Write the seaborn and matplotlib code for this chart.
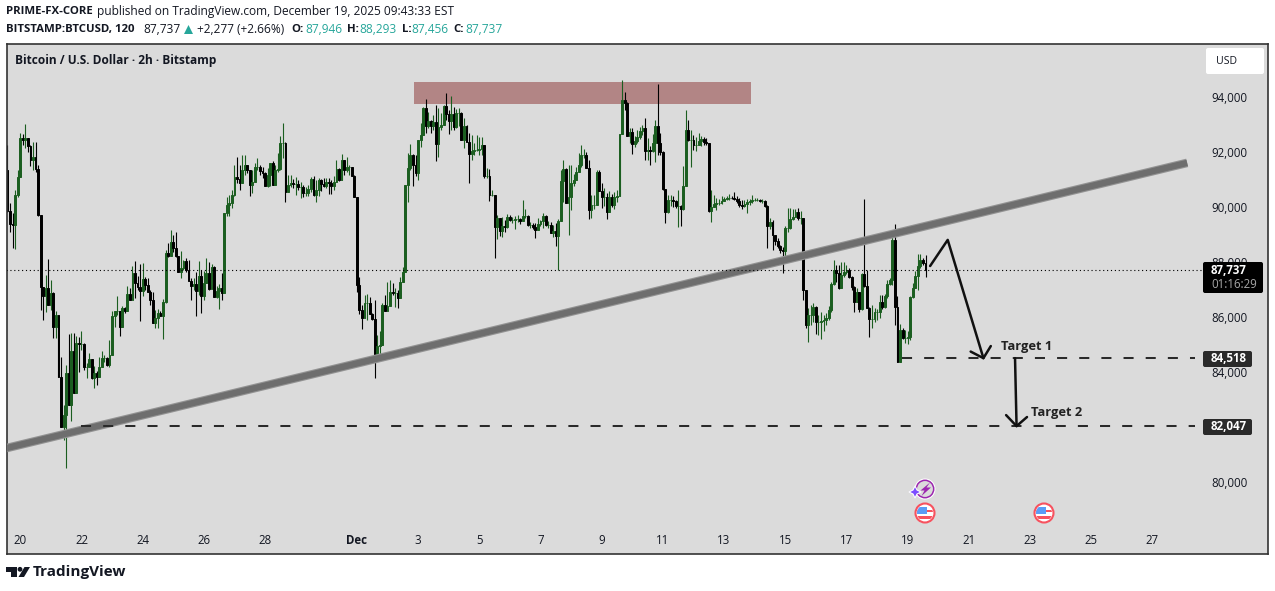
import matplotlib
matplotlib.use("Agg")
import matplotlib.pyplot as plt
import numpy as np
import seaborn as sns
from matplotlib.patches import Circle, FancyBboxPatch, Polygon, Rectangle
from matplotlib.transforms import Affine2D

# 2h BTCUSD candles
first_open = 91360
closes = [
    89870, 89400, 89360, 90450, 91110, 92530, 92450, 92530, 92240, 91730, 91840, 91400, 89730, 87110, 86780, 87070,
    86450, 86890, 85660, 86090, 83840, 82020, 82450, 83980, 82820, 84780, 83250, 85070, 85040, 85040, 84200, 84200,
    84490, 83800, 83980, 83840, 84200, 84530, 84530, 84270, 84640, 86050, 86240, 86240, 85660, 86350, 86240, 86850,
    86640, 87620, 87260, 87110, 86960, 87400, 87180, 86930, 86640, 85800, 85980, 86160, 86050, 86560, 88350, 88240,
    88750, 88530, 88240, 87660, 87800, 88060, 87730, 87330, 87150, 87220, 86960, 87510, 86780, 87260, 87620, 87040,
    87840, 86750, 86960, 87070, 86890, 89800,
    90090, 90160, 90450, 91110, 91040, 90890, 91360, 91550, 91360, 90820, 90930, 91470, 91470, 91330, 91250, 90780,
    91180, 91620, 90820, 91360, 91400, 92350, 92350, 90560, 90820, 90890, 90850, 90850, 90750, 90750, 90530, 90530,
    90670, 91040, 90450, 90640, 91000, 90850, 90780, 90930, 90890, 90780, 90930, 91400, 91000, 91730, 91360, 91470, 91470,
    91150, 90380, 87180, 86270, 85980, 86530, 86530, 86130, 85950, 84600, 84960, 85000, 86450, 86240, 86420, 86930,
    86890, 86890, 86710, 87290, 87660, 90820,
    91440, 91910, 91550, 91250, 92450, 92640, 93620, 92960, 93150, 92960, 93110, 92310, 92930, 93000, 93690, 93400,
    93150, 93400, 92930, 93440, 93440, 92450, 92960, 92380, 91950, 92050, 92090, 92090, 92130, 92270, 91150, 91150,
    90450, 90450, 89290, 89620, 89150, 89330, 89290, 89650, 89550, 89550, 89580, 89580, 89500, 89690, 89690, 89360, 89360, 89300,
    89180, 89400, 89500, 89690, 89360, 89360, 89070, 89150, 88960, 89510, 90960, 91400, 90160, 90380, 90890, 91000, 91290,
    91550, 91910, 91910, 91440, 89910, 90090, 90090, 91290, 90600, 90380, 90380, 89840, 90380, 90090, 90380, 90420,
    92670, 93910, 93800, 92600, 92750, 92310, 92420, 92560, 92780, 92890, 92050, 92090, 92050, 92350, 92960, 92350,
    92020, 90670, 89840, 90270, 90270, 90240, 90050, 90050, 89950, 90780, 92820, 92450, 92450, 92270, 92270, 92420,
    92490, 92380, 92350, 89870, 90020, 90130, 90160, 90160, 90240, 90310, 90350, 90350, 90340, 90310, 90240, 90090, 90050,
    90130, 90200, 90240, 90270, 90270, 90280, 90240, 90240, 90050, 89330, 89470, 89000, 88780, 88600, 88450, 88420, 89250,
    89250, 89580, 89650, 89840, 89620, 89620,
    87000, 85730, 86090, 86090, 86380, 85840, 85840, 85870, 85900, 85980, 86270, 87220, 87730, 87600, 87070, 87550, 87660, 87730,
    87470, 87110, 86560, 86930, 86310, 87570, 87150, 86350, 85950, 85950, 86200, 86200, 86560, 86380, 86780, 87220,
    87360, 88820, 86380, 84380, 85550, 85250, 85250, 85300, 86750, 87070, 87500, 87870, 88090, 87980, 87737,
]
highs = [
    92270, 90160, 89800, 90640, 91360, 92710, 92670, 93040, 92530, 92270, 92380, 92380, 91550, 89730, 87000, 87550,
    88130, 87360, 86930, 86240, 86090, 84560, 82820, 84270, 85400, 85440, 85440, 85330, 85290, 85510, 85070, 84340,
    84710, 84490, 84240, 84050, 84560, 84780, 84640, 84560, 85180, 86240, 86240, 86780, 86240, 86420, 86380, 87150,
    87070, 87870, 88060, 87510, 87950, 87980, 87470, 87440, 87000, 86930, 86270, 86310, 86240, 86670, 88450, 88710,
    89180, 89000, 89110, 88240, 88420, 88090, 88160, 88090, 87440, 87440, 87660, 88060, 87730, 87690, 88160, 88020,
    87950, 87870, 87150, 87220, 87620, 89800,
    90380, 90450, 90640, 91550, 91840, 91550, 91910, 91910, 91550, 91360, 91360, 91620, 91800, 91550, 91470, 91290,
    91440, 91620, 91690, 91550, 91980, 92600, 93070, 92380, 91180, 91180, 91040, 91110, 91000, 90930, 90820, 90750,
    90820, 91110, 91150, 91000, 91070, 91040, 91070, 91070, 91070, 91000, 91150, 91730, 91440, 91950, 91730, 91840, 91550,
    91470, 91180, 90380, 87470, 86450, 86820, 86850, 86750, 86160, 86640, 85360, 85510, 86530, 86820, 87290, 87360,
    87250, 87070, 87000, 87470, 87830, 90820,
    91980, 92310, 91950, 91910, 92450, 93070, 93650, 93950, 93470, 93180, 93360, 93730, 93620, 93440, 93730, 94160,
    93550, 94050, 93650, 93580, 93620, 93470, 93250, 93000, 92710, 92640, 92350, 92640, 92560, 92560, 92270, 91440,
    91400, 90640, 90450, 89730, 89620, 89650, 89550, 89760, 89730, 89650, 89690, 89730, 89620, 90270, 89950, 89730, 89470, 89420,
    89440, 89620, 89560, 89800, 89730, 89510, 89470, 89360, 89440, 89580, 91360, 91730, 91440, 91550, 91550, 91220, 91470,
    91980, 92270, 92130, 92020, 91730, 90450, 90450, 91360, 91360, 90890, 90710, 90530, 90600, 90490, 90560, 90640,
    92670, 94640, 94200, 93840, 92890, 92890, 92600, 92820, 92930, 93000, 93250, 92530, 92240, 92670, 93180, 94490,
    92710, 92050, 90640, 90450, 90450, 90420, 90270, 90640, 90090, 91510, 93550, 93180, 92820, 92640, 92560, 92710,
    92600, 92560, 92530, 92350, 90640, 90450, 90350, 90310, 90420, 90380, 90420, 90490, 90420, 90560, 90420, 90340, 90270,
    90270, 90310, 90310, 90450, 90340, 90340, 90310, 90310, 90270, 90090, 89620, 89550, 89000, 88890, 88640, 88560, 89330,
    89980, 89980, 89950, 89950, 89980, 89870,
    89550, 87000, 86350, 86450, 86530, 86420, 86090, 86200, 86100, 86160, 86420, 87290, 88090, 87900, 87910, 88020, 88020, 87910,
    87800, 87510, 87150, 87070, 86930, 87600, 90310, 87730, 86380, 86450, 86350, 86310, 86820, 86820, 86850, 87360,
    87440, 89150, 89400, 86780, 85760, 85620, 85550, 85500, 86780, 87250, 87700, 88310, 88310, 88160, 88270,
]
lows = [
    89840, 89110, 88530, 88490, 90380, 91110, 92270, 92160, 92020, 91510, 91360, 91290, 89690, 86270, 85910, 86200,
    86450, 86270, 85250, 85250, 83840, 82020, 81550, 80530, 82820, 82240, 83250, 83360, 84020, 84820, 84090, 83800,
    84200, 83760, 83440, 83550, 83840, 84200, 84380, 84240, 84200, 84640, 85660, 86090, 85330, 85660, 86160, 86240,
    86640, 86780, 86710, 87000, 85870, 86780, 87000, 86930, 86450, 85800, 85620, 85620, 86050, 85220, 86530, 88200,
    88240, 88380, 88200, 87660, 87440, 87730, 87660, 87330, 86640, 87000, 86050, 86820, 86160, 86640, 87260, 87000,
    87400, 86750, 86710, 86310, 86640, 86930,
    89690, 89690, 89980, 90420, 90890, 90640, 90890, 91180, 91250, 90420, 90530, 90930, 91360, 91180, 91070, 90780,
    90750, 90780, 90820, 90850, 91290, 91360, 91800, 90200, 90560, 90750, 90710, 90450, 90640, 90350, 90380, 90420,
    90420, 90560, 90420, 90200, 90420, 90600, 90750, 90710, 90490, 90490, 90640, 90930, 90960, 91000, 91180, 91290, 91180,
    91150, 90380, 86930, 86130, 85580, 85980, 85910, 86130, 85910, 83800, 84600, 84600, 85000, 86240, 86240, 86420,
    86820, 86380, 86350, 86710, 87290, 87660,
    90200, 91360, 90780, 91150, 91000, 92200, 92640, 92710, 92890, 92710, 92820, 91690, 91840, 92820, 93000, 93180,
    92670, 92820, 92820, 92890, 92960, 92450, 92160, 92380, 90890, 91730, 91910, 92050, 91910, 91910, 91070, 91070,
    90240, 90420, 88160, 88850, 88960, 88930, 89110, 89260, 89510, 89440, 89220, 89470, 89400, 89550, 89620, 89330, 89260, 89200,
    88890, 89180, 89340, 89260, 89330, 89260, 89070, 88930, 88600, 87730, 89510, 90200, 90160, 88990, 89910, 90780, 91000,
    91290, 91470, 91800, 91440, 89580, 89620, 89950, 90090, 90600, 89980, 90060, 89580, 89840, 90020, 89950, 90200,
    90420, 92670, 93550, 92600, 92350, 91950, 92200, 92350, 92490, 92640, 91730, 91730, 91550, 92020, 91660, 91910,
    91910, 90640, 89440, 89800, 90050, 90020, 89980, 89290, 89330, 89910, 90780, 92420, 91470, 92090, 92050, 92270,
    92240, 92270, 92270, 89840, 89470, 90020, 89910, 90090, 90130, 90240, 90270, 90270, 90290, 90270, 90160, 90020, 89950,
    90020, 89800, 90090, 90160, 90240, 90220, 90200, 90160, 90020, 88530, 89220, 88450, 88640, 88530, 88350, 87620, 88090,
    89110, 89220, 89550, 89650, 89550, 89400,
    86640, 85620, 85110, 85730, 85840, 85400, 85360, 85220, 85500, 85730, 85910, 86200, 87180, 87300, 87040, 87070, 87470, 87580,
    87440, 87000, 86200, 86560, 86200, 86270, 87110, 86350, 85290, 85620, 85840, 85910, 85980, 86310, 86350, 86710,
    87180, 87180, 85730, 84380, 84380, 85220, 85070, 85050, 85180, 86710, 87100, 87000, 87800, 87910, 87470,
]

y_ticks = [80000, 82000, 84000, 86000, 88000, 90000, 92000, 94000]
tick_days = [0, 2, 4, 6, 8, 11, 13, 15, 17, 19, 21, 23, 25, 27, 29, 31, 33, 35, 37]
tick_labels = ["20", "22", "24", "26", "28", "Dec", "3", "5", "7", "9", "11", "13", "15", "17", "19", "21", "23", "25", "27"]

# drawings on the chart, in bar number and price
trend_bars = [-0.4, 462.6]
trend_prices = [81250, 91620]
zone_bars = [159.4, 291.6]
zone_prices = [93760, 94560]
target_1 = 84518
target_2 = 82047
last_price = 87737
target_1_bars = [350.8, 465.7]
target_2_bars = [28.8, 465.7]
arrow_1_bars = [361.8, 368.7, 382.7]
arrow_1_prices = [87870, 88820, 84520]
head_1_bars = [377.7, 382.7, 385.6]
head_1_prices = [84760, 84520, 84960]
arrow_2_bars = [395.1, 395.7]
arrow_2_prices = [84520, 82050]
head_2_bars = [391.6, 395.7, 399.8]
head_2_prices = [82450, 82050, 82380]

WIDTH, HEIGHT = 1275, 591
BG = "#dbdbdb"
GREEN = "#1b5e20"
TEAL = "#26a69a"
INK = "#131722"

sns.set_theme(style="white", rc={"axes.facecolor": BG, "axes.edgecolor": "#333333", "axes.linewidth": 1.2})
plt.rcParams["font.family"] = ["Open Sans", "DejaVu Sans"]

fig = plt.figure(figsize=(WIDTH / 100, HEIGHT / 100), dpi=100, facecolor="white")
ax = fig.add_axes([6.5 / WIDTH, 1 - 554 / HEIGHT, (1268 - 6.5) / WIDTH, (554 - 43.5) / HEIGHT])

# pixel coordinates, origin top left, for the chrome around the chart
PX = Affine2D().scale(1, -1).translate(0, HEIGHT)

closes = np.array(closes)
opens = np.r_[first_open, closes[:-1]]
bars = np.arange(len(closes))
colors = np.where(closes >= opens, GREEN, "#000000")

ax.add_patch(Rectangle((zone_bars[0], zone_prices[0]), zone_bars[1] - zone_bars[0], zone_prices[1] - zone_prices[0],
                       facecolor="#b28585", edgecolor="none", zorder=1))

ax.vlines(bars, lows, highs, colors=colors, linewidth=0.8, zorder=2)
ax.bar(bars, closes - opens, bottom=opens, width=0.74, color=colors, edgecolor=colors, linewidth=0.7, zorder=2.1)

# trend line, soft grey band with a darker middle
sns.lineplot(x=trend_bars, y=trend_prices, ax=ax, color="#939393", linewidth=6.2, solid_capstyle="butt", zorder=3)
sns.lineplot(x=trend_bars, y=trend_prices, ax=ax, color="#6e6e6e", linewidth=4.6, solid_capstyle="butt", zorder=3.1)

dashes = (0, (5, 6))
sns.lineplot(x=target_1_bars, y=[target_1, target_1], ax=ax, color="#2a2a2a", linewidth=1.45, linestyle=dashes, zorder=3.2)
sns.lineplot(x=target_2_bars, y=[target_2, target_2], ax=ax, color="#2a2a2a", linewidth=1.45, linestyle=dashes, zorder=3.2)
sns.lineplot(x=[-0.4, 469.6], y=[last_price, last_price], ax=ax, color="#000000", linewidth=0.8, linestyle=(0, (1, 2.5)), zorder=3.2)

for xs, ys in [(arrow_1_bars, arrow_1_prices), (head_1_bars, head_1_prices), (arrow_2_bars, arrow_2_prices), (head_2_bars, head_2_prices)]:
    sns.lineplot(x=xs, y=ys, ax=ax, color="#111111", linewidth=1.8, sort=False, estimator=None, zorder=3.3)

ax.text(389.6, 84960, "Target 1", fontsize=9.3, fontweight="bold", color="#222222", va="center", ha="left")
ax.text(401.4, 82530, "Target 2", fontsize=9.3, fontweight="bold", color="#222222", va="center", ha="left")

ax.set_xlim(-0.39, 494.3)
ax.set_ylim(77400, 95960)
ax.set_xticks([5 + 12 * d for d in tick_days], tick_labels)
ax.set_yticks(y_ticks, [f"{v:,}" for v in y_ticks])
ax.yaxis.tick_right()
ax.tick_params(axis="x", length=0, pad=-14.5, labelsize=8.3, labelcolor=INK)
ax.tick_params(axis="y", length=0, pad=-41, labelsize=8.3, labelcolor=INK)
ax.get_xticklabels()[5].set_fontweight("bold")
ax.set_xlabel("")
ax.set_ylabel("")


def label_box(left, top, width, height, color):
    ax.add_patch(FancyBboxPatch((left, top), width, height, boxstyle="round,pad=0,rounding_size=2",
                                transform=PX, facecolor=color, edgecolor="none", zorder=5))


label_box(1203, 262, 60, 31, "#000000")
label_box(1203, 351, 49, 16, "#2a2a2a")
label_box(1203, 419, 49, 16, "#2a2a2a")
label_box(1206, 48, 58, 26, "#ffffff")
ax.text(1211, 270.5, f"{last_price:,}", transform=PX, color="white", fontsize=8.3, fontweight="bold", va="center", zorder=6)
ax.text(1211, 284, "01:16:29", transform=PX, color="#a8a8a8", fontsize=8.3, va="center", zorder=6)
ax.text(1211, 359, f"{target_1:,}", transform=PX, color="white", fontsize=8.3, fontweight="bold", va="center", zorder=6)
ax.text(1211, 427, f"{target_2:,}", transform=PX, color="white", fontsize=8.3, fontweight="bold", va="center", zorder=6)
ax.text(1216, 61.5, "USD", transform=PX, color=INK, fontsize=7.6, va="center", zorder=6)
ax.text(15, 60.5, "Bitcoin / U.S. Dollar · 2h · Bitstamp", transform=PX, color=INK, fontsize=8.6, fontweight="bold", va="center", zorder=6)


def flag(cx, cy):
    ring = Circle((cx, cy), 9.5, transform=PX, facecolor="white", edgecolor="#f7525f", linewidth=1.5, zorder=6)
    ax.add_patch(ring)
    clip = Circle((cx, cy), 8, transform=PX)
    for left, top, width, height, color in [(cx - 9, cy - 3.5, 18, 2.5, "#f7525f"), (cx - 9, cy + 2.5, 18, 3.5, "#f7525f"), (cx - 8, cy - 6.5, 10, 7.5, "#5b9cf6")]:
        part = Rectangle((left, top), width, height, transform=PX, facecolor=color, edgecolor="none", zorder=6.1)
        ax.add_patch(part)
        part.set_clip_path(clip)


flag(925, 513)
flag(1044, 513)

ax.add_patch(Circle((925, 489), 10.5, transform=PX, facecolor="white", edgecolor="none", zorder=6))
ax.add_patch(Circle((925, 489), 8.7, transform=PX, facecolor=BG, edgecolor="#9c27b0", linewidth=1.1, zorder=6.1))
ax.add_patch(Polygon([(930, 482.5), (920.5, 490.5), (924.5, 490.5), (921.5, 496), (931, 487.5), (926.5, 487.5)], transform=PX,
                     facecolor="#9c27b0", edgecolor="none", zorder=6.2))
ax.add_patch(Polygon([(915, 486), (917, 490), (921, 492), (917, 494), (915, 498), (913, 494), (909, 492), (913, 490)],
                     transform=PX, facecolor="#7c4dff", edgecolor="white", linewidth=0.8, zorder=6.3))


def header(x, y, text, color=INK, bold=False):
    fig.text(x, y, text, transform=PX, color=color, fontsize=8.2 if bold else 8.6, fontweight="bold" if bold else "normal", va="center", ha="left")


header(6, 12, "PRIME-FX-CORE", bold=True)
header(97, 12, "published on TradingView.com, December 19, 2025 09:43:33 EST")
header(6, 29.5, "BITSTAMP:BTCUSD, 120", bold=True)
header(143, 29.5, "87,737")
fig.add_artist(Polygon([(184, 34), (188.5, 25), (193, 34)], transform=PX, facecolor=TEAL, edgecolor="none"))
header(197, 29.5, "+2,277 (+2.66%)")
header(291, 29.5, "O:", bold=True)
header(305, 29.5, "87,946", TEAL)
header(347, 29.5, "H:", bold=True)
header(359, 29.5, "88,293", TEAL)
header(402, 29.5, "L:", bold=True)
header(411, 29.5, "87,456", TEAL)
header(453, 29.5, "C:", bold=True)
header(465, 29.5, "87,737", TEAL)

# TradingView mark and name under the chart
LOGO = "#131722"
fig.add_artist(Polygon([(6, 567), (16.5, 567), (16.5, 577), (11, 577), (11, 571.5), (6, 571.5)], transform=PX, facecolor=LOGO, edgecolor="none"))
fig.add_artist(Circle((20, 569.3), 2.4, transform=PX, facecolor=LOGO, edgecolor="none"))
fig.add_artist(Polygon([(24.5, 567), (30, 567), (24, 577), (18.5, 577)], transform=PX, facecolor=LOGO, edgecolor="none"))
fig.text(33, 572, "TradingView", transform=PX, color=LOGO, fontsize=11, fontweight="bold", va="center", ha="left")

fig.savefig("out.png", dpi=100, facecolor="white")
plt.close(fig)
